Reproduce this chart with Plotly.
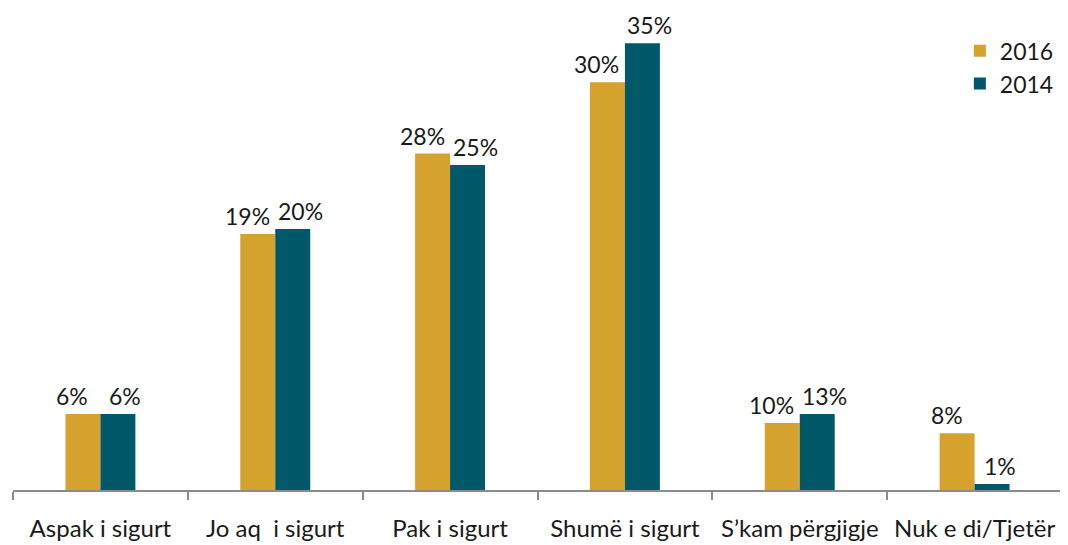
import plotly.graph_objects as go

categories = ["Aspak i sigurt", "Jo aq  i sigurt", "Pak i sigurt",
              "Shumë i sigurt", "S’kam përgjigje", "Nuk e di/Tjetër"]

# bar heights as drawn in the source (labels don't match heights exactly)
h_2016 = [5.95, 20.05, 26.35, 31.95, 5.25, 4.45]
h_2014 = [5.95, 20.45, 25.45, 35.0, 5.95, 0.47]
lbl_2016 = ["6%", "19%", "28%", "30%", "10%", "8%"]
lbl_2014 = ["6%", "20%", "25%", "35%", "13%", "1%"]

GOLD = "#D6A22E"
TEAL = "#005868"
FONT = "Lato, 'Open Sans', sans-serif"
INK = "#1a1a1a"

fig = go.Figure()
fig.add_trace(go.Bar(x=categories, y=h_2016, name="2016", marker_color=GOLD,
                     marker_line_width=0))
fig.add_trace(go.Bar(x=categories, y=h_2014, name="2014", marker_color=TEAL,
                     marker_line_width=0))

# value labels, nudged sideways so neighbouring labels don't collide
for cat, v, t in zip(categories, h_2016, lbl_2016):
    fig.add_annotation(x=cat, y=v, text=t, showarrow=False, yanchor="bottom",
                       xshift=-28, yshift=2, font=dict(size=23, color=INK))
for cat, v, t in zip(categories, h_2014, lbl_2014):
    fig.add_annotation(x=cat, y=v, text=t, showarrow=False, yanchor="bottom",
                       xshift=25, yshift=2, font=dict(size=23, color=INK))

# page body has an 8px margin, so the figure is sized to the remaining window
fig.update_layout(
    width=1060, height=537,
    margin=dict(l=5, r=6, t=2, b=55),
    barmode="group", bargap=0.6, bargroupgap=0,
    plot_bgcolor="white", paper_bgcolor="white",
    font=dict(family=FONT, size=23, color=INK),
    legend=dict(x=0.997, xanchor="right", y=0.96, yanchor="top",
                font=dict(size=23), tracegroupgap=0, itemwidth=30,
                bgcolor="rgba(0,0,0,0)"),
    showlegend=True,
)
fig.update_xaxes(showline=True, linecolor="#8c8c8c", linewidth=2,
                 ticks="outside", tickson="boundaries", ticklen=8,
                 tickcolor="#8c8c8c", tickwidth=2, ticklabelstandoff=16,
                 tickfont=dict(size=24, color=INK), showgrid=False)
fig.update_yaxes(range=[0, 37.6], visible=False, showgrid=False)

fig.write_html("out.html")
